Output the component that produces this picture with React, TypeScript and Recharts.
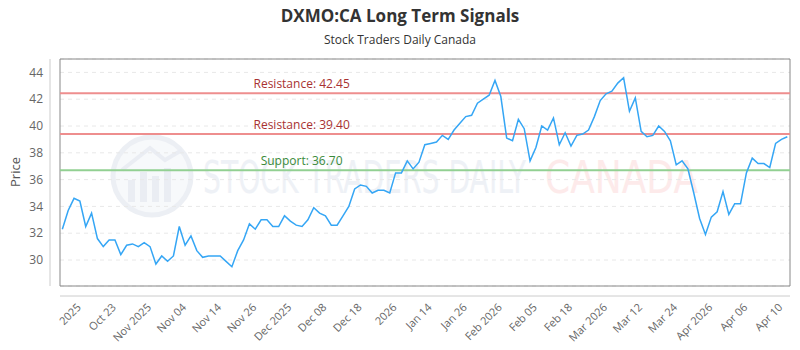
import React from "react"
import {
  LineChart,
  Line,
  XAxis,
  YAxis,
  CartesianGrid,
  ReferenceLine,
  ReferenceArea,
} from "recharts"

// closing prices, one per trading session
const prices = [
  32.3, 33.7, 34.6, 34.4, 32.5, 33.5, 31.6, 31.0, 31.5, 31.5,
  30.4, 31.1, 31.2, 31.0, 31.3, 31.0, 29.7, 30.3, 29.9, 30.3,
  32.5, 31.1, 31.8, 30.7, 30.2, 30.3, 30.3, 30.3, 29.9, 29.5,
  30.7, 31.5, 32.7, 32.3, 33.0, 33.0, 32.5, 32.5, 33.3, 32.9,
  32.6, 32.5, 33.0, 33.9, 33.5, 33.3, 32.6, 32.6, 33.3, 34.0,
  35.3, 35.6, 35.5, 35.0, 35.2, 35.2, 35.0, 36.5, 36.5, 37.4,
  36.8, 37.3, 38.6, 38.7, 38.8, 39.3, 39.0, 39.7, 40.2, 40.7,
  40.8, 41.7, 42.0, 42.3, 43.4, 42.2, 39.1, 38.9, 40.5, 39.8,
  37.4, 38.4, 40.0, 39.7, 40.6, 38.6, 39.5, 38.5, 39.3, 39.4,
  39.7, 40.7, 41.9, 42.4, 42.6, 43.2, 43.6, 41.1, 42.1, 39.6,
  39.2, 39.3, 40.0, 39.6, 38.9, 37.1, 37.4, 36.8, 35.0, 33.1,
  31.9, 33.2, 33.6, 35.1, 33.4, 34.2, 34.2, 36.5, 37.6, 37.2,
  37.2, 36.9, 38.7, 39.0, 39.2,
]

const resistanceHigh = 42.45
const resistanceLow = 39.4
const supportLevel = 36.7

const yTicks = [30, 32, 34, 36, 38, 40, 42, 44]
const yDomain = [28.06, 45.0]
const xDomain = [-0.4, 124.46]

const xTickIdx = [4, 10, 16, 22, 28, 34, 40, 46, 52, 58, 64, 70, 76, 82, 88, 94, 100, 106, 112, 118, 124]
const xTickLabels = [
  "2025", "Oct 23", "Nov 2025", "Nov 04", "Nov 14", "Nov 26", "Dec 2025",
  "Dec 08", "Dec 18", "2026", "Jan 14", "Jan 26", "Feb 2026", "Feb 05",
  "Feb 18", "Mar 2026", "Mar 12", "Mar 24", "Apr 2026", "Apr 06", "Apr 10",
]

const data = prices.map((price, i) => ({ i, price }))

const FONT = "'Open Sans', sans-serif"

const levelLabel = (text: string, color: string) => (props: any) => {
  const { viewBox } = props
  if (!viewBox) return null
  return (
    <text
      x={viewBox.x + viewBox.width * 0.331}
      y={viewBox.y - 5}
      textAnchor="middle"
      fontSize={12}
      fontFamily={FONT}
      fill={color}
    >
      {text}
    </text>
  )
}

const XTick = ({ x, y, payload }: any) => {
  const idx = xTickIdx.indexOf(payload.value)
  const tx = x - 4
  const ty = y + 8
  return (
    <text
      x={tx}
      y={ty}
      transform={`rotate(-45, ${tx}, ${ty})`}
      textAnchor="end"
      fontSize={11}
      fontFamily={FONT}
      fill="#666"
    >
      {xTickLabels[idx]}
    </text>
  )
}

function Watermark() {
  return (
    <svg width={800} height={350} style={{ position: "absolute", left: 0, top: 0 }}>
      <g opacity={0.75}>
        <circle cx={152} cy={176} r={39} fill="#f5f7fa" stroke="#e6eaf1" strokeWidth={5} />
        <polyline points="122,170 150,148 165,160 182,150" fill="none" stroke="#e4e8f0" strokeWidth={4} />
        <rect x={128} y={180} width={7} height={22} fill="#e4e8f0" />
        <rect x={140} y={172} width={7} height={30} fill="#e4e8f0" />
        <rect x={152} y={176} width={7} height={26} fill="#e4e8f0" />
        <rect x={164} y={168} width={7} height={34} fill="#e4e8f0" />
        <text
          x={203}
          y={193}
          fontSize={44}
          fontFamily="'DejaVu Sans Condensed', 'DejaVu Sans', sans-serif"
          fill="#e9edf4"
          textLength={323}
          lengthAdjust="spacingAndGlyphs"
        >
          STOCK TRADERS DAILY
        </text>
        <text
          x={545}
          y={193}
          fontSize={44}
          fontFamily="'DejaVu Sans', sans-serif"
          fill="#fde4e4"
          textLength={153}
          lengthAdjust="spacingAndGlyphs"
        >
          CANADA
        </text>
      </g>
      <text x={400} y={22} textAnchor="middle" fontSize={17} fontWeight="bold" fontFamily={FONT} fill="#333">
        DXMO:CA Long Term Signals
      </text>
      <text x={400} y={44} textAnchor="middle" fontSize={12} fontFamily={FONT} fill="#333">
        Stock Traders Daily Canada
      </text>
      <text
        x={20}
        y={172}
        transform="rotate(-90, 20, 172)"
        textAnchor="middle"
        fontSize={13}
        fontFamily={FONT}
        fill="#555"
      >
        Price
      </text>
    </svg>
  )
}

export default function App() {
  return (
    <div style={{ position: "relative", width: 800, height: 350, margin: -8, background: "#fff" }}>
      <Watermark />
      <div style={{ position: "absolute", left: 0, top: 0 }}>
        <LineChart width={800} height={350} data={data} margin={{ top: 59, right: 10, bottom: 0, left: 0 }}>
          <CartesianGrid vertical={false} stroke="#e8e8e8" strokeDasharray="4 4" />
          <XAxis
            type="number"
            dataKey="i"
            domain={xDomain}
            ticks={xTickIdx}
            interval={0}
            height={64}
            tickLine={false}
            tickSize={0}
            tickMargin={14}
            axisLine={{ stroke: "#ccc", transform: "translate(0, 10)" }}
            tick={<XTick />}
          />
          <YAxis
            type="number"
            domain={yDomain}
            ticks={yTicks}
            width={60}
            tickLine={false}
            tickSize={0}
            tickMargin={17}
            axisLine={{ stroke: "#ccc", transform: "translate(-10, 0)" }}
            tick={{ fontSize: 12, fill: "#666", fontFamily: FONT }}
          />
          <ReferenceArea
            x1={xDomain[0]}
            x2={xDomain[1]}
            y1={yDomain[0]}
            y2={yDomain[1]}
            fill="none"
            stroke="#888"
            strokeWidth={1}
          />
          <ReferenceLine
            y={resistanceHigh}
            stroke="#ee8e8e"
            strokeWidth={2}
            label={levelLabel(`Resistance: ${resistanceHigh.toFixed(2)}`, "#a83232")}
          />
          <ReferenceLine
            y={resistanceLow}
            stroke="#ee8e8e"
            strokeWidth={2}
            label={levelLabel(`Resistance: ${resistanceLow.toFixed(2)}`, "#a83232")}
          />
          <ReferenceLine
            y={supportLevel}
            stroke="#92d092"
            strokeWidth={2}
            label={levelLabel(`Support: ${supportLevel.toFixed(2)}`, "#3a8a3a")}
          />
          <Line
            type="linear"
            dataKey="price"
            stroke="#35a6f5"
            strokeWidth={1.5}
            dot={false}
            isAnimationActive={false}
          />
        </LineChart>
      </div>
    </div>
  )
}
